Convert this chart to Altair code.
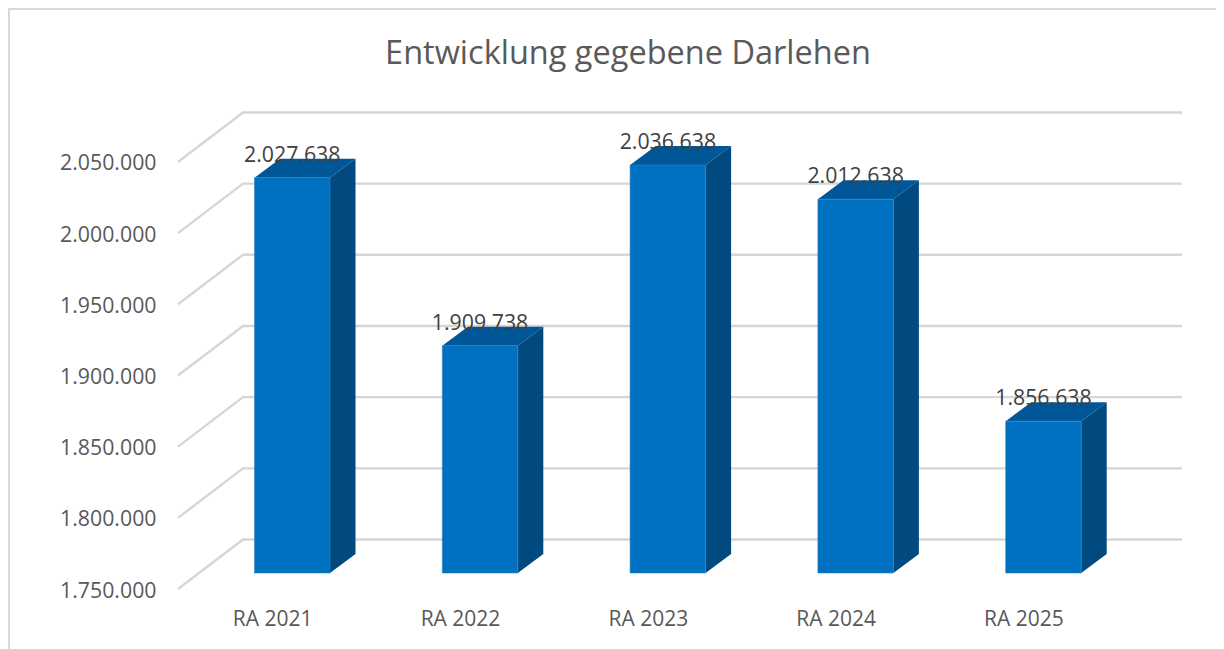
import altair as alt
import pandas as pd

categories = ["RA 2021", "RA 2022", "RA 2023", "RA 2024", "RA 2025"]
values = [2027638, 1909738, 2036638, 2012638, 1856638]
value_labels = ["2.027.638", "1.909.738", "2.036.638", "2.012.638", "1.856.638"]
ticks = [1750000, 1800000, 1850000, 1900000, 1950000, 2000000, 2050000]
title_text = "Entwicklung gegebene Darlehen"

W, H = 1208, 641
BASE = ticks[0]
PX_Y = 50000 / 71.17      # value units per pixel
PX_X = 1 / 187.8          # slot units per pixel
X_ORIGIN = 235            # slot 0 (back wall) inside the view
Y_ORIGIN = 581            # front-plane base value inside the view

x_scale = alt.Scale(domain=[-X_ORIGIN * PX_X, (W - X_ORIGIN) * PX_X], nice=False, zero=False)
y_scale = alt.Scale(domain=[BASE - (H - Y_ORIGIN) * PX_Y, BASE + Y_ORIGIN * PX_Y], nice=False, zero=False)

# perspective offsets
wall_dx, wall_dy = 65 * PX_X, 49.5 * PX_Y
bar_left, bar_w = 11.5 * PX_X, 75.5 * PX_X
bar_dx, bar_dy = 25.5 * PX_X, 19 * PX_Y
bar_lift = 16 * PX_Y
center_shift = 29.2 * PX_X

grid_rows = []
for t in ticks:
    grid_rows += [
        {"t": t, "o": 0, "x": -wall_dx, "y": t},
        {"t": t, "o": 1, "x": 0, "y": t + wall_dy},
        {"t": t, "o": 2, "x": len(categories), "y": t + wall_dy},
    ]

front, side, top = [], [], []
for i, (c, v, lab) in enumerate(zip(categories, values, value_labels)):
    x0 = i + bar_left
    x1 = x0 + bar_w
    lo, hi = BASE + bar_lift, v + bar_lift
    front.append({"c": c, "x0": x0, "x1": x1, "lo": lo, "hi": hi, "mid": (x0 + x1) / 2, "label": lab})
    side += [
        {"c": c, "x": x1, "lo": lo, "hi": hi},
        {"c": c, "x": x1 + bar_dx, "lo": lo + bar_dy, "hi": hi + bar_dy},
    ]
    top += [
        {"c": c, "x": x0, "lo": hi, "hi": hi},
        {"c": c, "x": x0 + bar_dx, "lo": hi, "hi": hi + bar_dy},
        {"c": c, "x": x1, "lo": hi, "hi": hi + bar_dy},
        {"c": c, "x": x1 + bar_dx, "lo": hi + bar_dy, "hi": hi + bar_dy},
    ]

FONT = "Open Sans"
GREY = "#595959"
label_array = "[" + ",".join(f"'{c}'" for c in categories) + "]"

x_axis = alt.Axis(
    values=[i + center_shift for i in range(len(categories))],
    labelExpr=f"{label_array}[round(datum.value - {center_shift})]",
    domain=False, ticks=False, grid=False, labelFont=FONT, labelFontSize=21, labelColor=GREY,
    labelPadding=0, offset=-41, labelAlign="center", title=None)
y_axis = alt.Axis(
    values=ticks,
    labelExpr="replace(format(datum.value, ','), /,/g, '.')",
    domain=False, ticks=False, grid=False, labelFont=FONT, labelFontSize=21.3, labelColor=GREY,
    labelPadding=22, labelOffset=2, offset=-170, labelAlign="right", title=None)

X = lambda f: alt.X(f, type="quantitative", scale=x_scale, axis=x_axis)
Y = lambda f: alt.Y(f, type="quantitative", scale=y_scale, axis=y_axis)

grid = alt.Chart(pd.DataFrame(grid_rows)).mark_line(color="#d6d6d6", strokeWidth=2.4, strokeJoin="miter").encode(
    x=X("x"), y=Y("y"), detail="t:N", order="o:Q")

side_layer = alt.Chart(pd.DataFrame(side)).mark_area(color="#004a80", orient="vertical").encode(
    x=X("x"), y=Y("lo"), y2="hi", detail="c:N")
top_layer = alt.Chart(pd.DataFrame(top)).mark_area(color="#005797", orient="vertical").encode(
    x=X("x"), y=Y("lo"), y2="hi", detail="c:N")
front_df = pd.DataFrame(front)
front_layer = alt.Chart(front_df).mark_rect(color="#0070c0", stroke="#2a82c8", strokeWidth=0.6).encode(
    x=X("x0"), x2="x1", y=Y("lo"), y2="hi")
text_layer = alt.Chart(front_df).mark_text(
    font=FONT, fontSize=21.3, color="#404040", baseline="alphabetic", dy=-16).encode(
    x=X("mid"), y=Y("hi"), text="label:N")

frame_left = alt.Chart(pd.DataFrame({"a": [0]})).mark_rule(color="#d9d9d9", strokeWidth=2).encode(
    x=alt.value(1), y=alt.value(0), y2=alt.value(H))
frame_top = alt.Chart(pd.DataFrame({"a": [0]})).mark_rule(color="#d9d9d9", strokeWidth=2).encode(
    y=alt.value(1), x=alt.value(0), x2=alt.value(W))

chart = alt.layer(grid, top_layer, side_layer, front_layer, text_layer, frame_left, frame_top).properties(
    width=W, height=H, padding=0,
    autosize=alt.AutoSizeParams(type="none"),
    title=alt.TitleParams(title_text, font=FONT, fontSize=32.5, fontWeight="normal", color=GREY,
                          anchor="middle", dx=16, dy=67),
).configure_view(stroke=None).configure(background="white")

chart.save("out.html", embed_options={"renderer": "svg", "actions": False})
